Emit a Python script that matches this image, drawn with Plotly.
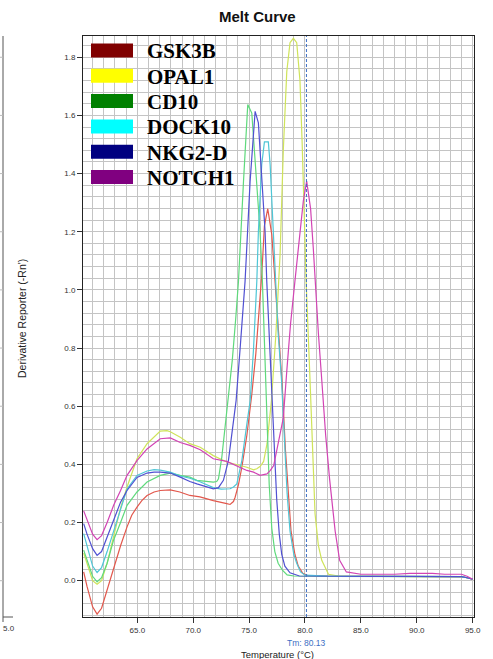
import plotly.graph_objects as go

# ---------------- data ----------------
names = ["GSK3B", "OPAL1", "CD10", "DOCK10", "NKG2-D", "NOTCH1"]
curve_colors = ["#e2574c", "#cfe35a", "#5fd97c", "#4fc6d6", "#5050d2", "#d244b4"]
legend_colors = ["#800000", "#ffff00", "#008000", "#00ffff", "#000080", "#800080"]

gsk3b_t = [60.2, 60.5, 61.0, 61.4, 61.8, 62.3, 62.88, 63.5, 64.08, 64.5, 64.97, 65.4, 65.87, 66.5,
           67.05, 67.95, 68.8, 69.7, 70.6, 71.8, 73.0, 73.3, 73.6, 73.75, 74.05, 74.35, 74.8,
           75.24, 75.6, 75.9, 76.13, 76.37, 76.67, 77.03, 77.32, 77.6, 77.95, 78.25, 78.5,
           78.75, 79.1, 79.4, 79.8, 80.2, 82.0, 85.0, 88.0, 91.0, 94.0, 94.5, 95.0]
gsk3b_v = [0.03, -0.02, -0.09, -0.115, -0.095, -0.03, 0.047, 0.12, 0.185, 0.225, 0.253, 0.275,
           0.293, 0.305, 0.31, 0.312, 0.305, 0.293, 0.288, 0.275, 0.265, 0.262, 0.272, 0.287,
           0.33, 0.39, 0.50, 0.64, 0.78, 0.92, 1.05, 1.22, 1.279, 1.19, 1.03, 0.85, 0.68, 0.45,
           0.30, 0.17, 0.09, 0.05, 0.025, 0.018, 0.016, 0.015, 0.015, 0.015, 0.013, 0.01, 0.005]

opal1_t = [60.2, 60.5, 61.0, 61.4, 61.8, 62.3, 62.88, 63.5, 64.08, 64.5, 64.97, 65.87, 67.05,
           67.65, 67.95, 68.84, 69.7, 70.63, 71.8, 73.0, 74.8, 75.4, 75.69, 76.0, 76.3, 76.6,
           77.0, 77.4, 77.77, 78.06, 78.37, 78.66, 78.96, 79.26, 79.55, 79.75, 79.95, 80.1,
           80.45, 80.7, 80.9, 81.2, 81.5, 82.1, 83.0, 86.0, 90.0, 94.0, 94.5, 95.0]
opal1_v = [0.095, 0.06, 0.0, -0.012, 0.0, 0.06, 0.15, 0.25, 0.322, 0.37, 0.419, 0.471, 0.514,
           0.516, 0.512, 0.493, 0.471, 0.459, 0.43, 0.408, 0.39, 0.381, 0.385, 0.393, 0.41, 0.47,
           0.62, 0.85, 1.12, 1.48, 1.75, 1.85, 1.865, 1.85, 1.72, 1.50, 1.20, 1.03, 0.69, 0.40,
           0.23, 0.12, 0.07, 0.022, 0.016, 0.015, 0.015, 0.014, 0.01, 0.005]

cd10_t = [60.2, 60.5, 61.0, 61.4, 61.8, 62.3, 62.88, 63.5, 64.08, 64.97, 65.87, 67.05, 67.95,
          68.84, 69.7, 70.33, 71.8, 72.1, 72.26, 72.56, 72.86, 73.15, 73.5, 73.8, 74.05, 74.5,
          74.88, 75.24, 75.69, 75.98, 76.19, 76.4, 76.58, 76.8, 77.03, 77.3, 77.6, 78.0, 78.4,
          79.0, 82.0, 86.0, 90.0, 94.0, 94.5, 95.0]
cd10_v = [0.105, 0.07, 0.015, -0.004, 0.01, 0.06, 0.14, 0.20, 0.259, 0.305, 0.339, 0.362, 0.37,
          0.362, 0.356, 0.345, 0.339, 0.341, 0.35, 0.425, 0.528, 0.62, 0.76, 0.90, 1.03, 1.374,
          1.637, 1.608, 1.374, 1.20, 1.03, 0.80, 0.55, 0.33, 0.18, 0.10, 0.06, 0.035, 0.02,
          0.016, 0.015, 0.015, 0.015, 0.014, 0.01, 0.005]

dock10_t = [60.2, 60.5, 61.0, 61.4, 61.8, 62.3, 62.88, 63.5, 64.08, 64.97, 65.87, 66.5, 67.05,
            67.95, 68.84, 69.7, 70.6, 71.8, 72.5, 73.3, 73.6, 73.9, 74.35, 74.8, 75.1, 75.4,
            75.69, 75.83, 76.13, 76.37, 76.72, 76.88, 77.17, 77.38, 77.6, 77.9, 78.2, 78.4,
            78.66, 79.0, 79.26, 79.6, 80.0, 82.0, 86.0, 90.0, 94.0, 94.5, 95.0]
dock10_v = [0.162, 0.12, 0.05, 0.028, 0.045, 0.10, 0.17, 0.25, 0.315, 0.362, 0.377, 0.382, 0.38,
            0.373, 0.36, 0.352, 0.34, 0.32, 0.315, 0.316, 0.322, 0.333, 0.413, 0.539, 0.62, 0.80,
            1.03, 1.20, 1.431, 1.509, 1.509, 1.431, 1.20, 1.03, 0.85, 0.69, 0.45, 0.30, 0.17,
            0.09, 0.06, 0.03, 0.019, 0.016, 0.015, 0.015, 0.014, 0.01, 0.005]

nkg2d_t = [60.2, 60.5, 61.0, 61.4, 61.8, 62.3, 62.88, 63.5, 64.08, 64.97, 65.87, 66.5, 67.05,
           67.95, 68.84, 69.7, 70.33, 71.8, 72.26, 72.7, 73.15, 73.6, 73.84, 74.2, 74.64, 75.09,
           75.54, 75.83, 76.13, 76.43, 76.58, 76.8, 77.03, 77.25, 77.47, 77.7, 77.92, 78.2,
           78.66, 79.5, 82.0, 86.0, 90.0, 94.0, 94.5, 95.0]
nkg2d_v = [0.196, 0.16, 0.11, 0.087, 0.10, 0.15, 0.21, 0.27, 0.31, 0.355, 0.37, 0.373, 0.373,
           0.37, 0.356, 0.341, 0.333, 0.316, 0.32, 0.345, 0.413, 0.55, 0.62, 0.80, 1.03, 1.374,
           1.614, 1.574, 1.374, 1.20, 1.03, 0.85, 0.65, 0.45, 0.28, 0.16, 0.09, 0.05, 0.027,
           0.016, 0.015, 0.015, 0.015, 0.014, 0.01, 0.005]

notch1_t = [60.2, 60.5, 61.0, 61.4, 61.8, 62.3, 62.88, 63.5, 64.08, 64.97, 65.87, 67.05, 67.95,
            68.84, 69.7, 70.63, 71.8, 73.0, 74.8, 75.4, 75.98, 76.6, 76.9, 77.2, 77.47, 77.77,
            78.06, 78.37, 78.7, 79.1, 79.4, 79.85, 80.15, 80.5, 80.74, 80.9, 81.2, 81.5, 81.85,
            82.2, 82.7, 83.1, 83.7, 85.0, 88.0, 89.4, 91.4, 92.5, 94.0, 94.5, 95.0]
notch1_v = [0.24, 0.21, 0.16, 0.141, 0.155, 0.20, 0.259, 0.31, 0.362, 0.413, 0.453, 0.488, 0.491,
            0.475, 0.465, 0.45, 0.419, 0.41, 0.379, 0.373, 0.362, 0.367, 0.379, 0.396, 0.448,
            0.493, 0.56, 0.72, 0.88, 1.03, 1.145, 1.305, 1.374, 1.28, 1.145, 1.03, 0.85, 0.69,
            0.50, 0.35, 0.17, 0.07, 0.03, 0.022, 0.022, 0.025, 0.025, 0.022, 0.022, 0.015, 0.005]

series_t = [gsk3b_t, opal1_t, cd10_t, dock10_t, nkg2d_t, notch1_t]
series_v = [gsk3b_v, opal1_v, cd10_v, dock10_v, nkg2d_v, notch1_v]

tm_value = 80.13
x_tick_vals = [65, 70, 75, 80, 85, 90, 95]
y_tick_vals = [0.0, 0.2, 0.4, 0.6, 0.8, 1.0, 1.2, 1.4, 1.6, 1.8]

# ---------------- layout helpers ----------------
W, H = 493, 659
ML, MR, MT, MB = 83, 19, 36, 42
PW, PH = W - ML - MR, H - MT - MB


def pxx(x):
    return (x - ML) / PW


def pxy(y):
    return (H - MB - y) / PH


fig = go.Figure()
for n, c, t, v in zip(names, curve_colors, series_t, series_v):
    fig.add_trace(go.Scatter(x=t, y=v, mode="lines", name=n, showlegend=False,
                             line=dict(color=c, width=1.2)))

grid_c = "#c4c4c4"
tick_font = dict(family="Liberation Sans, Arial, sans-serif", size=8, color="#333333")
fig.update_layout(
    width=W, height=H, autosize=False,
    margin=dict(l=ML, r=MR, t=MT, b=MB, pad=0),
    paper_bgcolor="white", plot_bgcolor="white",
    showlegend=False,
    xaxis=dict(range=[60.14, 95.12], tickvals=x_tick_vals, tickformat=".1f",
               showgrid=True, gridcolor=grid_c, gridwidth=1,
               minor=dict(dtick=1, tick0=60, showgrid=True, gridcolor=grid_c, gridwidth=1),
               showline=True, linecolor="#222222", linewidth=1, mirror=True,
               ticks="outside", ticklen=5, tickcolor="#333333", tickfont=tick_font,
               zeroline=False, fixedrange=True),
    yaxis=dict(range=[-0.125, 1.873], tickvals=y_tick_vals, tickformat=".1f",
               showgrid=True, gridcolor=grid_c, gridwidth=1,
               minor=dict(dtick=0.04, tick0=0, showgrid=True, gridcolor=grid_c, gridwidth=1),
               showline=True, linecolor="#222222", linewidth=1, mirror=True,
               ticks="outside", ticklen=5, tickcolor="#333333", tickfont=tick_font,
               zeroline=False, fixedrange=True),
)

shapes = []
annotations = []

# Tm marker line
shapes.append(dict(type="line", xref="x", yref="paper", x0=tm_value, x1=tm_value, y0=0, y1=1,
                   line=dict(color="#3c6fc4", width=1, dash="3px,2px")))

# legend (pasted-on style box legend)
row0, row_step = 50.5, 25.3
for i, (n, c) in enumerate(zip(names, legend_colors)):
    cy = row0 + i * row_step
    shapes.append(dict(type="rect", xref="paper", yref="paper",
                       x0=pxx(91), x1=pxx(133), y0=pxy(cy + 7), y1=pxy(cy - 7),
                       fillcolor=c, line=dict(width=0)))
    annotations.append(dict(text=n, xref="paper", yref="paper", x=pxx(145), y=pxy(cy + 1),
                            xanchor="left", yanchor="middle", showarrow=False,
                            font=dict(family="Liberation Serif, Times New Roman, serif",
                                      size=21, color="black", weight="bold")))

# Title
annotations.append(dict(text="<b>Melt Curve</b>", xref="paper", yref="paper",
                        x=pxx(257), y=pxy(16), xanchor="center", yanchor="middle",
                        showarrow=False,
                        font=dict(family="Liberation Sans, Arial, sans-serif", size=15,
                                  color="#111111")))
# axis titles
annotations.append(dict(text="Temperature (°C)", xref="paper", yref="paper",
                        x=pxx(277), y=pxy(654), xanchor="center", yanchor="middle",
                        showarrow=False,
                        font=dict(family="Liberation Sans, Arial, sans-serif", size=9.5,
                                  color="#222222")))
annotations.append(dict(text="Derivative Reporter (-Rn')", xref="paper", yref="paper",
                        x=pxx(22), y=pxy(319), xanchor="center", yanchor="middle",
                        textangle=-90, showarrow=False,
                        font=dict(family="Liberation Sans, Arial, sans-serif", size=10.5,
                                  color="#222222")))
annotations.append(dict(text="Tm: %.2f" % tm_value, xref="x", yref="paper",
                        x=tm_value, y=pxy(643), xanchor="center", yanchor="middle",
                        showarrow=False,
                        font=dict(family="Liberation Sans, Arial, sans-serif", size=8.5,
                                  color="#3c6fc4")))

# remnant of neighbouring panel at the far left
shapes.append(dict(type="line", xref="paper", yref="paper", x0=pxx(3), x1=pxx(3),
                   y0=pxy(36), y1=pxy(622), line=dict(color="#555555", width=1)))
for yv in y_tick_vals:
    ypix = 580.7 - yv * 290.8
    shapes.append(dict(type="line", xref="paper", yref="paper", x0=pxx(0), x1=pxx(3),
                       y0=pxy(ypix), y1=pxy(ypix), line=dict(color="#bbbbbb", width=1)))
shapes.append(dict(type="line", xref="paper", yref="paper", x0=pxx(3), x1=pxx(13),
                   y0=pxy(617), y1=pxy(617), line=dict(color="#555555", width=1)))
annotations.append(dict(text="5.0", xref="paper", yref="paper", x=pxx(0.5), y=pxy(628),
                        xanchor="left", yanchor="middle", showarrow=False,
                        font=dict(family="Liberation Sans, Arial, sans-serif", size=8,
                                  color="#333333")))

fig.update_layout(shapes=shapes, annotations=annotations)
fig.write_html("out.html")
